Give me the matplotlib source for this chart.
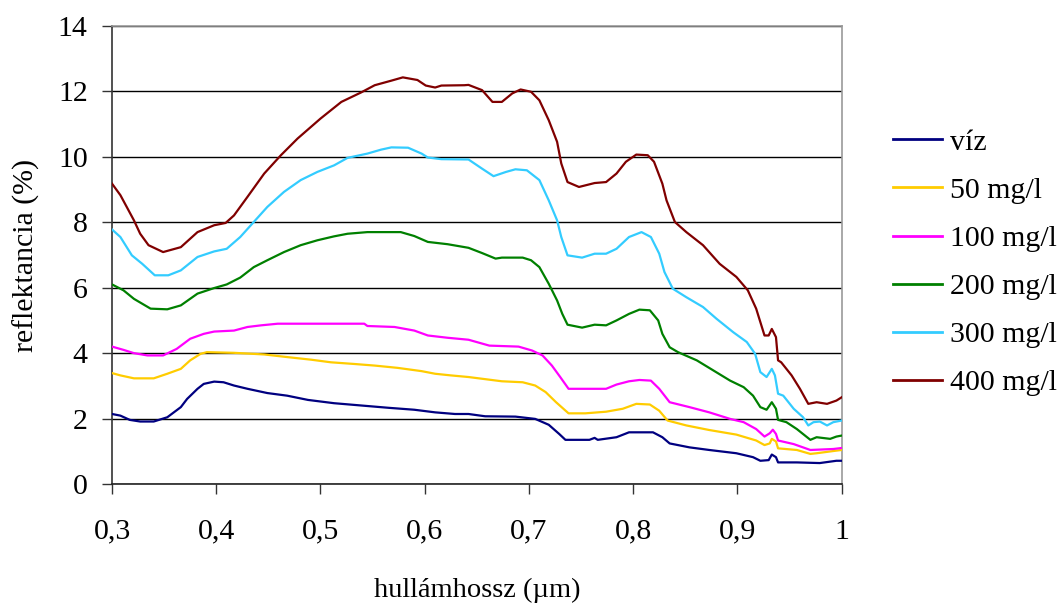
import matplotlib.pyplot as plt
from matplotlib.ticker import FuncFormatter

plt.rcParams['font.family'] = ['Liberation Serif', 'DejaVu Serif']

# víz
x_viz = [0.300, 0.308, 0.317, 0.327, 0.340, 0.353, 0.366, 0.372, 0.382, 0.388, 0.398, 0.407,
         0.417, 0.430, 0.449, 0.468, 0.488, 0.513, 0.539, 0.565, 0.590, 0.610, 0.629, 0.642,
         0.658, 0.687, 0.706, 0.719, 0.729, 0.735, 0.758, 0.763, 0.766, 0.784, 0.796, 0.819,
         0.828, 0.835, 0.854, 0.873, 0.899, 0.915, 0.922, 0.930, 0.933, 0.937, 0.939, 0.957,
         0.979, 0.995, 1.000]
y_viz = [2.14, 2.09, 1.96, 1.91, 1.91, 2.04, 2.35, 2.60, 2.91, 3.06, 3.13, 3.11,
         3.01, 2.91, 2.78, 2.70, 2.57, 2.47, 2.40, 2.33, 2.27, 2.19, 2.14, 2.14,
         2.07, 2.06, 1.99, 1.81, 1.53, 1.35, 1.35, 1.41, 1.35, 1.43, 1.58, 1.58,
         1.43, 1.24, 1.12, 1.04, 0.94, 0.82, 0.71, 0.73, 0.90, 0.82, 0.66, 0.66,
         0.64, 0.71, 0.71]

# 50 mg/l
x_50 = [0.300, 0.308, 0.321, 0.340, 0.353, 0.366, 0.375, 0.385, 0.391, 0.417, 0.446, 0.468,
        0.491, 0.510, 0.532, 0.552, 0.574, 0.597, 0.610, 0.625, 0.642, 0.674, 0.694, 0.706,
        0.716, 0.726, 0.738, 0.754, 0.774, 0.790, 0.803, 0.816, 0.825, 0.833, 0.851, 0.873,
        0.899, 0.918, 0.926, 0.931, 0.933, 0.937, 0.939, 0.957, 0.970, 0.976, 0.995, 1.000]
y_50 = [3.39, 3.32, 3.23, 3.23, 3.37, 3.52, 3.78, 3.98, 4.03, 4.01, 3.96, 3.88,
        3.80, 3.72, 3.67, 3.62, 3.55, 3.45, 3.37, 3.32, 3.27, 3.14, 3.11, 3.01,
        2.81, 2.50, 2.16, 2.16, 2.21, 2.30, 2.45, 2.43, 2.24, 1.94, 1.79, 1.65,
        1.51, 1.33, 1.19, 1.24, 1.38, 1.30, 1.09, 1.04, 0.92, 0.94, 1.02, 1.04]

# 100 mg/l
x_100 = [0.300, 0.311, 0.321, 0.334, 0.349, 0.362, 0.375, 0.388, 0.398, 0.417, 0.430, 0.443,
         0.459, 0.542, 0.545, 0.571, 0.590, 0.603, 0.622, 0.642, 0.662, 0.690, 0.703, 0.713,
         0.722, 0.730, 0.738, 0.761, 0.774, 0.784, 0.796, 0.806, 0.817, 0.825, 0.835, 0.854,
         0.873, 0.893, 0.906, 0.918, 0.926, 0.931, 0.934, 0.937, 0.939, 0.954, 0.970, 0.992,
         1.000]
y_100 = [4.20, 4.10, 4.00, 3.93, 3.93, 4.13, 4.44, 4.59, 4.66, 4.69, 4.80, 4.85,
         4.90, 4.90, 4.83, 4.80, 4.69, 4.54, 4.47, 4.41, 4.23, 4.20, 4.08, 3.93,
         3.62, 3.27, 2.91, 2.91, 2.91, 3.04, 3.14, 3.18, 3.16, 2.91, 2.50, 2.35,
         2.19, 1.99, 1.89, 1.68, 1.45, 1.55, 1.66, 1.53, 1.33, 1.22, 1.04, 1.07,
         1.10]

# 200 mg/l
x_200 = [0.300, 0.311, 0.321, 0.337, 0.353, 0.366, 0.382, 0.398, 0.410, 0.423, 0.436, 0.449,
         0.465, 0.481, 0.497, 0.513, 0.526, 0.545, 0.577, 0.590, 0.603, 0.622, 0.642, 0.655,
         0.668, 0.674, 0.694, 0.702, 0.710, 0.719, 0.727, 0.732, 0.737, 0.751, 0.763, 0.774,
         0.784, 0.796, 0.806, 0.816, 0.824, 0.828, 0.835, 0.843, 0.861, 0.877, 0.893, 0.906,
         0.915, 0.922, 0.928, 0.933, 0.937, 0.939, 0.947, 0.957, 0.970, 0.976, 0.989, 0.995,
         1.000]
y_200 = [6.10, 5.92, 5.66, 5.36, 5.34, 5.46, 5.82, 5.99, 6.10, 6.31, 6.63, 6.84,
         7.09, 7.30, 7.45, 7.57, 7.65, 7.70, 7.70, 7.58, 7.40, 7.33, 7.22, 7.06,
         6.89, 6.92, 6.92, 6.84, 6.63, 6.12, 5.61, 5.20, 4.87, 4.78, 4.87, 4.85,
         5.00, 5.20, 5.33, 5.31, 5.00, 4.59, 4.18, 4.03, 3.78, 3.47, 3.16, 2.96,
         2.70, 2.35, 2.27, 2.50, 2.30, 1.96, 1.89, 1.68, 1.35, 1.43, 1.38, 1.45,
         1.48]

# 300 mg/l
x_300 = [0.300, 0.308, 0.319, 0.329, 0.341, 0.354, 0.366, 0.382, 0.398, 0.410, 0.423, 0.436,
         0.449, 0.465, 0.481, 0.497, 0.513, 0.526, 0.545, 0.558, 0.568, 0.584, 0.597, 0.603,
         0.616, 0.642, 0.655, 0.666, 0.678, 0.687, 0.698, 0.710, 0.719, 0.727, 0.731, 0.737,
         0.751, 0.763, 0.774, 0.784, 0.796, 0.808, 0.817, 0.825, 0.830, 0.838, 0.851, 0.867,
         0.880, 0.896, 0.909, 0.917, 0.922, 0.928, 0.933, 0.936, 0.939, 0.944, 0.954, 0.963,
         0.968, 0.973, 0.979, 0.986, 0.992, 1.000]
y_300 = [7.78, 7.55, 6.99, 6.73, 6.38, 6.38, 6.53, 6.94, 7.11, 7.19, 7.55, 8.01,
         8.47, 8.93, 9.29, 9.54, 9.74, 9.97, 10.10, 10.22, 10.29, 10.28, 10.10, 9.98,
         9.93, 9.92, 9.64, 9.41, 9.54, 9.62, 9.59, 9.29, 8.67, 8.06, 7.55, 6.99,
         6.92, 7.04, 7.04, 7.19, 7.55, 7.70, 7.55, 7.04, 6.48, 5.97, 5.71, 5.41,
         5.05, 4.64, 4.34, 3.98, 3.42, 3.27, 3.52, 3.32, 2.76, 2.70, 2.30, 2.04,
         1.79, 1.89, 1.91, 1.79, 1.89, 1.94]

# 400 mg/l
x_400 = [0.300, 0.308, 0.321, 0.327, 0.335, 0.349, 0.366, 0.382, 0.398, 0.409, 0.417, 0.430,
         0.446, 0.462, 0.478, 0.500, 0.520, 0.539, 0.552, 0.568, 0.579, 0.593, 0.601, 0.610,
         0.616, 0.638, 0.642, 0.655, 0.665, 0.674, 0.684, 0.692, 0.702, 0.710, 0.719, 0.727,
         0.731, 0.737, 0.748, 0.763, 0.774, 0.784, 0.793, 0.803, 0.814, 0.820, 0.828, 0.832,
         0.840, 0.851, 0.867, 0.883, 0.899, 0.910, 0.918, 0.926, 0.930, 0.933, 0.937, 0.939,
         0.942, 0.952, 0.960, 0.968, 0.976, 0.986, 0.995, 1.000]
y_400 = [9.18, 8.83, 8.06, 7.65, 7.30, 7.09, 7.24, 7.70, 7.91, 7.98, 8.21, 8.78,
         9.49, 10.05, 10.56, 11.17, 11.68, 11.97, 12.19, 12.33, 12.43, 12.35, 12.18, 12.12,
         12.18, 12.19, 12.20, 12.04, 11.68, 11.68, 11.94, 12.06, 11.99, 11.73, 11.12, 10.46,
         9.80, 9.23, 9.08, 9.20, 9.23, 9.49, 9.85, 10.07, 10.05, 9.85, 9.18, 8.67,
         8.01, 7.70, 7.30, 6.73, 6.33, 5.92, 5.36, 4.54, 4.54, 4.74, 4.49, 3.78,
         3.72, 3.32, 2.91, 2.45, 2.50, 2.45, 2.55, 2.65]

labels = ['víz', '50 mg/l', '100 mg/l', '200 mg/l', '300 mg/l', '400 mg/l']
colors = ['#000080', '#FFCC00', '#FF00FF', '#008000', '#33CCFF', '#800000']
series = [(x_viz, y_viz), (x_50, y_50), (x_100, y_100),
          (x_200, y_200), (x_300, y_300), (x_400, y_400)]

x_ticks = [0.3, 0.4, 0.5, 0.6, 0.7, 0.8, 0.9, 1.0]
y_ticks = [0, 2, 4, 6, 8, 10, 12, 14]

fig = plt.figure(figsize=(10.62, 6.05), dpi=100)
ax = fig.add_axes([0.1055, 0.2, 0.687, 0.757])

for (xs, ys), lab, col in zip(series, labels, colors):
    ax.plot(xs, ys, color=col, linewidth=1.6, label=lab, zorder=3)

ax.set_xlim(0.3, 1.0)
ax.set_ylim(0, 14)
ax.set_xticks(x_ticks)
ax.set_yticks(y_ticks)
ax.xaxis.set_major_formatter(FuncFormatter(lambda v, p: f'{v:g}'.replace('.', ',')))
ax.tick_params(axis='both', direction='out', length=7, width=1, labelsize=21.5, color='#333333')
ax.tick_params(axis='y', pad=10.5)
ax.tick_params(axis='x', pad=18)

# rácsvonalak
ax.grid(axis='y', color='black', linewidth=1, zorder=1)
ax.spines['top'].set_color('#999999')
ax.spines['right'].set_color('#999999')
ax.spines['left'].set_color('#333333')
ax.spines['bottom'].set_color('#222222')
for s in ax.spines.values():
    s.set_linewidth(1.2)

ax.text(0.5, -0.232, 'hullámhossz (µm)', transform=ax.transAxes, ha='center', va='center',
        fontsize=20.5)
ax.text(-0.118, 0.5, 'reflektancia (%)', transform=ax.transAxes, ha='center', va='center',
        rotation=90, fontsize=21.5)

leg = ax.legend(loc='center left', bbox_to_anchor=(0.841, 0.566), bbox_transform=fig.transFigure,
                frameon=False, fontsize=21.5, handlelength=1.63, handletextpad=0.27,
                labelspacing=0.71, borderpad=0, borderaxespad=0)
for line in leg.get_lines():
    line.set_linewidth(2)

fig.savefig('out.png', dpi=100)
